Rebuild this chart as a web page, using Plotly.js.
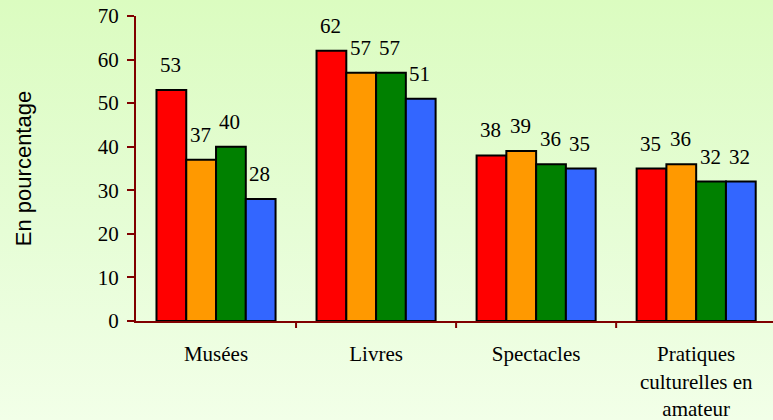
<!DOCTYPE html>
<html><head><meta charset="utf-8">
<script src="https://cdn.plot.ly/plotly-3.0.1.min.js"></script>
<style>
html,body{margin:0;padding:0;width:773px;height:420px;overflow:hidden;background:linear-gradient(to bottom,#dbfcc0 0%,#e6fdd6 55%,#f2ffe8 100%);}
#chart{width:773px;height:420px;}
</style></head>
<body><div id="chart"></div>
<script>
const categories = ["Musées", "Livres", "Spectacles", "Pratiques<br>culturelles en<br>amateur"];
const seriesNames = ["Série 1", "Série 2", "Série 3", "Série 4"];
const seriesValues = [
  [53, 62, 38, 35],
  [37, 57, 39, 36],
  [40, 57, 36, 32],
  [28, 51, 35, 32]
];
const colors = ["#ff0000", "#ff9900", "#008000", "#3366ff"];
const yTicks = [0, 10, 20, 30, 40, 50, 60, 70];

const SERIF = "Liberation Serif";
const SANS = "Liberation Sans";

const bargap = 0.256;
const nS = seriesValues.length;
const bw = (1 - bargap) / nS;

const traces = seriesValues.map((vals, j) => ({
  type: "bar",
  name: seriesNames[j],
  x: categories.map((c, i) => i),
  y: vals,
  marker: {color: colors[j], line: {color: "#000000", width: 2}},
  hoverinfo: "y"
}));

const annotations = [];
seriesValues.forEach((vals, j) => {
  vals.forEach((v, i) => {
    annotations.push({
      x: i + (j - (nS - 1) / 2) * bw,
      y: v,
      xref: "x", yref: "y",
      text: String(v),
      showarrow: false,
      yanchor: "middle",
      yshift: 25,
      xshift: -1,
      font: {family: SERIF, size: 21, color: "#000000"}
    });
  });
});

const layout = {
  width: 773, height: 420,
  margin: {l: 136, r: 0, t: 16, b: 99},
  paper_bgcolor: "rgba(0,0,0,0)",
  plot_bgcolor: "rgba(0,0,0,0)",
  showlegend: false,
  barmode: "group",
  bargap: bargap,
  bargroupgap: 0,
  font: {family: SERIF, size: 21, color: "#000000"},
  xaxis: {
    range: [-0.5, 3.48],
    tickmode: "array",
    tickvals: categories.map((c, i) => i),
    ticktext: categories,
    showgrid: false,
    zeroline: false,
    showline: true,
    linecolor: "#800000",
    linewidth: 2,
    ticks: "",
    ticklabelstandoff: 13,
    tickfont: {family: SERIF, size: 21, color: "#000000"},
    fixedrange: true
  },
  yaxis: {
    range: [0, 70],
    tickmode: "array",
    tickvals: yTicks,
    ticktext: yTicks.map(String),
    showgrid: false,
    zeroline: false,
    showline: true,
    linecolor: "#800000",
    linewidth: 2,
    ticks: "outside",
    ticklen: 7,
    tickwidth: 2,
    tickcolor: "#800000",
    ticklabelstandoff: 4,
    tickfont: {family: SERIF, size: 21, color: "#000000"},
    title: {text: "En pourcentage", standoff: 60, font: {family: SANS, size: 22, color: "#000000"}},
    fixedrange: true
  },
  shapes: [0.5, 1.5, 2.5].map(b => ({
    type: "line", xref: "x", yref: "paper", x0: b, x1: b,
    line: {color: "#800000", width: 2},
    ysizemode: "pixel", yanchor: 0, y0: 0, y1: -7
  })),
  annotations: annotations
};

Plotly.newPlot("chart", traces, layout, {displayModeBar: false, staticPlot: true});
</script></body></html>
